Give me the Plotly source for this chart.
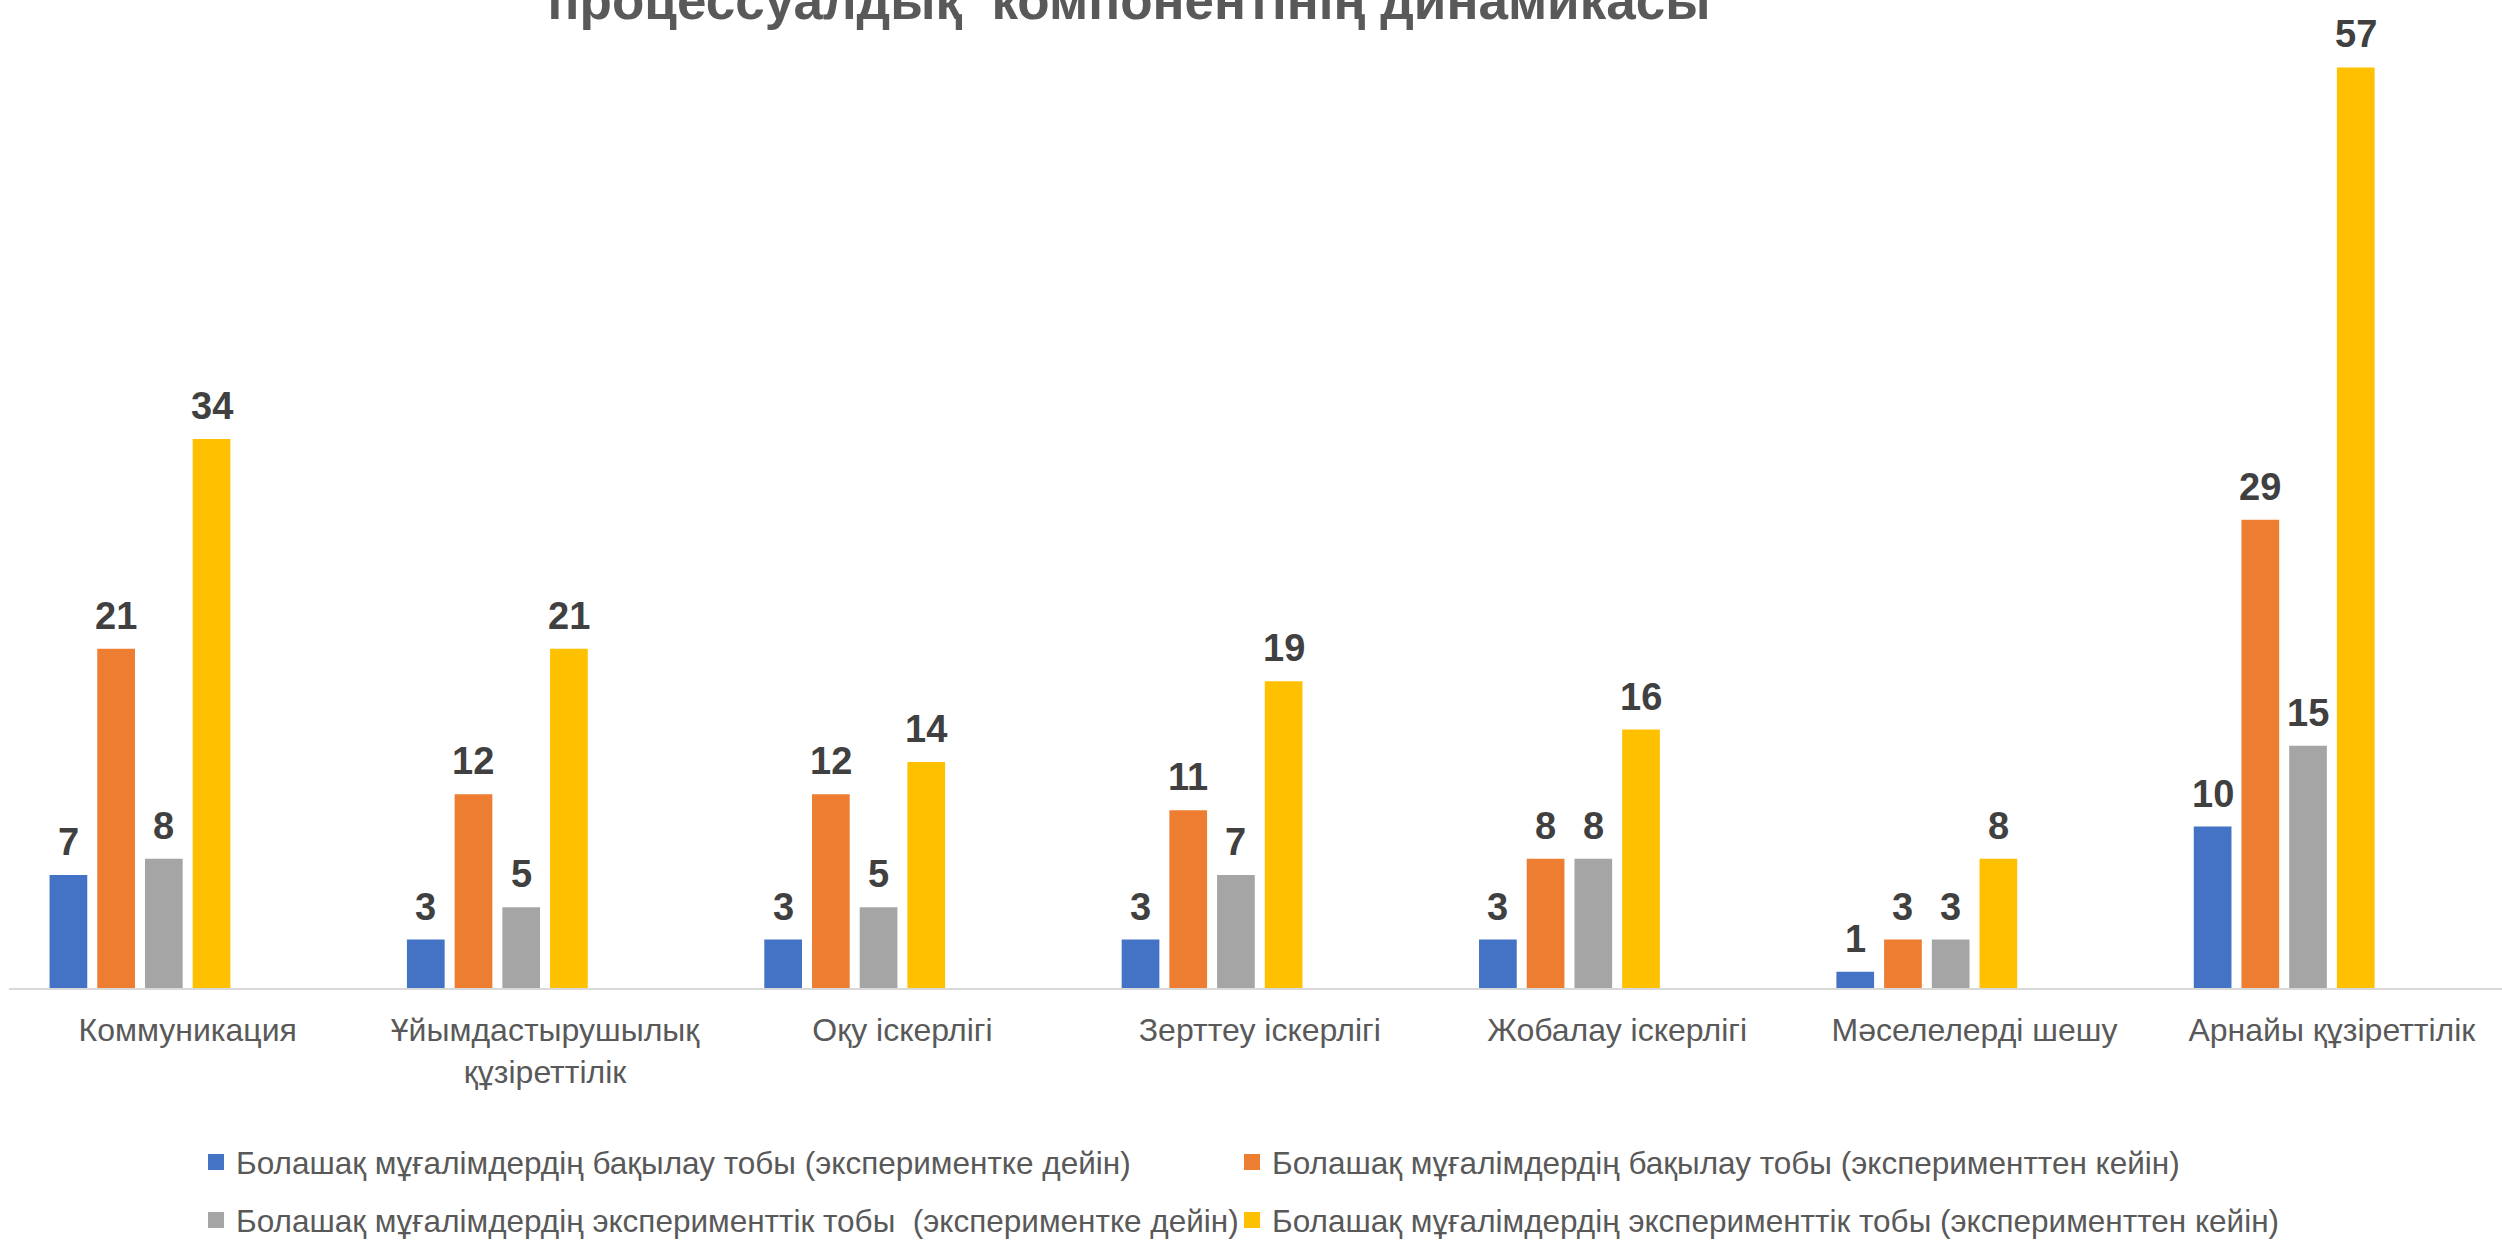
import plotly.graph_objects as go

categories = ["Коммуникация", "Ұйымдастырушылық<br>құзіреттілік", "Оқу іскерлігі",
              "Зерттеу іскерлігі", "Жобалау іскерлігі", "Мәселелерді шешу",
              "Арнайы құзіреттілік"]
series_names = [
    "Болашақ мұғалімдердің бақылау тобы (экспериментке дейін)",
    "Болашақ мұғалімдердің бақылау тобы (эксперименттен кейін)",
    "Болашақ мұғалімдердің эксперименттік тобы  (экспериментке дейін)",
    "Болашақ мұғалімдердің эксперименттік тобы (эксперименттен кейін)",
]
control_before = [7, 3, 3, 3, 3, 1, 10]
control_after = [21, 12, 12, 11, 8, 3, 29]
exp_before = [8, 5, 5, 7, 8, 3, 15]
exp_after = [34, 21, 14, 19, 16, 8, 57]
series_values = [control_before, control_after, exp_before, exp_after]
colors = ["#4472C4", "#ED7D31", "#A5A5A5", "#FFC000"]
title_text = "процессуалдық  компонентінің динамикасы"

W = 0.1055
P = 0.1335
offsets = [-(5 * P + W) / 2 + k * P for k in range(4)]

fig = go.Figure()
legend_ids = ["legend", "legend2", "legend3", "legend4"]
for k in range(4):
    fig.add_trace(go.Bar(
        x=categories, y=series_values[k], name=series_names[k],
        marker=dict(color=colors[k], line=dict(width=0)),
        width=W, offset=offsets[k], showlegend=False,
    ))
    fig.add_trace(go.Scatter(
        x=[None], y=[None], mode="markers", name=series_names[k],
        marker=dict(symbol="square", size=16, color=colors[k], line=dict(width=0)),
        legend=legend_ids[k], showlegend=True,
    ))

annotations = []
for k in range(4):
    for i, v in enumerate(series_values[k]):
        annotations.append(dict(
            x=i + offsets[k] + W / 2, y=v, xref="x", yref="y",
            text=f"<b>{v}</b>", showarrow=False, yanchor="bottom",
            yshift=10,
            font=dict(family="Liberation Sans, Arial", size=38, color="#404040"),
        ))

px0, pw = 9, 2493
pt, ph = 19, 969
def lx(px):
    return (px - px0) / pw
def ly(py):
    return (pt + ph - py) / ph

legfont = dict(family="Liberation Sans, Arial", size=31.5, color="#595959")
leg_common = dict(font=legfont, bgcolor="rgba(0,0,0,0)", xanchor="left", yanchor="middle",
                  orientation="h", borderwidth=0)

fig.update_layout(
    template="none",
    width=2502, height=1241,
    margin=dict(l=px0, r=0, t=pt, b=1241 - pt - ph, pad=0, autoexpand=False),
    paper_bgcolor="white", plot_bgcolor="white",
    showlegend=True,
    title=dict(text=f"<b>{title_text}</b>", x=1129 / 2502, xanchor="center",
               xref="container", yref="container", y=1 - 19 / 1241, yanchor="bottom",
               font=dict(family="Liberation Sans, Arial", size=53, color="#595959")),
    xaxis=dict(type="category", range=[-0.5, 6.476], showline=True, linecolor="#D9D9D9",
               linewidth=2, ticks="", showgrid=False, zeroline=False, automargin=False,
               ticklabelstandoff=13,
               tickfont=dict(family="Liberation Sans, Arial", size=32, color="#595959")),
    yaxis=dict(range=[0, 60], visible=False, showgrid=False, zeroline=False, automargin=False),
    annotations=annotations,
    legend=dict(x=lx(196), y=ly(1162), **leg_common),
    legend2=dict(x=lx(1232), y=ly(1162), **leg_common),
    legend3=dict(x=lx(196), y=ly(1220), **leg_common),
    legend4=dict(x=lx(1232), y=ly(1220), **leg_common),
)

fig.write_html("out.html", config={"displayModeBar": False},
               post_script="document.body.style.margin='0px';document.body.style.overflow='hidden';")
